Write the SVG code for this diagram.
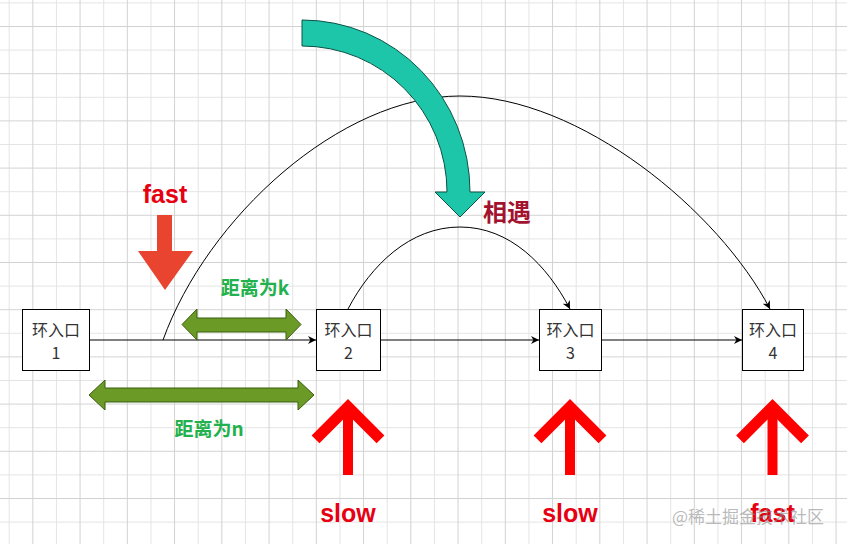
<svg xmlns="http://www.w3.org/2000/svg" width="847" height="544" viewBox="0 0 847 544">
<defs>
<pattern id="grid" patternUnits="userSpaceOnUse" x="8.7" y="2.4" width="47.25" height="47.2">
<path d="M0.5,0 V47.2 M0,0.5 H47.25" stroke="#e4e4e4" stroke-width="1" fill="none"/>
<path d="M24.1,0 V47.2 M0,24.1 H47.25" stroke="#d2d2d2" stroke-width="1" fill="none"/>
</pattern>
<marker id="arr" viewBox="0 0 10 10" refX="10" refY="5" markerWidth="8" markerHeight="8" markerUnits="userSpaceOnUse" orient="auto">
<path d="M0,0 L10,5 L0,10 L3,5 Z" fill="#000"/>
</marker>
<style>
.node rect{fill:#fff;stroke:#000;stroke-width:1}
.node text{font-family:"Noto Sans CJK SC","Liberation Sans",sans-serif;font-size:16px;fill:#333;text-anchor:middle}
.edge{fill:none;stroke:#000;stroke-width:1}
.red{font-family:"Liberation Sans","Noto Sans CJK SC",sans-serif;font-weight:bold;font-size:25px;fill:#e60012;text-anchor:middle}
.grn{font-family:"Noto Sans CJK SC","Liberation Sans",sans-serif;font-weight:bold;font-size:19px;fill:#22b14c;text-anchor:middle}
.dbl{fill:#6b9a27;stroke:#3b5e0f;stroke-width:1}
.up{fill:none;stroke:#ff0000}
</style>
</defs>
<rect width="847" height="544" fill="#fff"/>
<rect width="847" height="544" fill="url(#grid)"/>

<g id="connectors">
<path class="edge" d="M89,340 L316,340" marker-end="url(#arr)"/>
<path class="edge" d="M380,340 L539,340" marker-end="url(#arr)"/>
<path class="edge" d="M601,340 L742,340" marker-end="url(#arr)"/>
<path class="edge" d="M163,340 C207,218 340,96 460,96 C580,96 719,211 770,309" marker-end="url(#arr)"/>
<path class="edge" d="M348,309 C371,265 410,227 460,227 C510,227 547,265 570,309" marker-end="url(#arr)"/>
</g>

<g id="node1" class="node">
<rect x="22.5" y="309.5" width="67" height="61"/>
<text x="56" y="336">环入口</text>
<text x="56" y="359">1</text>
</g>
<g id="node2" class="node">
<rect x="316.5" y="309.5" width="64" height="61"/>
<text x="348.5" y="336">环入口</text>
<text x="348.5" y="359">2</text>
</g>
<g id="node3" class="node">
<rect x="539.5" y="309.5" width="62" height="61"/>
<text x="570.5" y="336">环入口</text>
<text x="570.5" y="359">3</text>
</g>
<g id="node4" class="node">
<rect x="742.5" y="309.5" width="61" height="61"/>
<text x="773" y="336">环入口</text>
<text x="773" y="359">4</text>
</g>

<g id="meet-arrow">
<path d="M302,20 A168,172 0 0 1 470,192 L485,192 L460,217 L435,192 L447,192 A145,146 0 0 0 302,46 Z" fill="#1dc6a9" stroke="#0c5247" stroke-width="1"/>
<text x="483" y="221" style="font-family:'Noto Sans CJK SC',sans-serif;font-weight:bold;font-size:24px;fill:#a3122e">相遇</text>
</g>

<g id="fast-top">
<text class="red" x="165" y="203">fast</text>
<polygon points="157,215 172,215 172,251 193,251 165,290 138,251 157,251" fill="#e8442f"/>
</g>

<g id="dist-k">
<polygon class="dbl" points="182,324.5 197,309 197,318 286,318 286,309 301,324.5 286,340 286,332 197,332 197,340"/>
<text class="grn" x="255" y="295">距离为k</text>
</g>
<g id="dist-n">
<polygon class="dbl" points="89,395 105,380 105,388 298,388 298,380 314,395 298,410 298,402 105,402 105,410"/>
<text class="grn" x="209" y="436">距离为n</text>
</g>

<g id="slow1">
<path class="up" d="M348,406 V475" stroke-width="10"/>
<path class="up" d="M315.5,439.3 L348,406.8 L380.5,439.3" stroke-width="11" stroke-linejoin="miter"/>
<text class="red" x="348" y="522">slow</text>
</g>
<g id="slow2">
<path class="up" d="M570,406 V475" stroke-width="10"/>
<path class="up" d="M537.5,439.3 L570,406.8 L602.5,439.3" stroke-width="11" stroke-linejoin="miter"/>
<text class="red" x="570" y="522">slow</text>
</g>
<g id="fast-bottom">
<path class="up" d="M772.5,406 V475" stroke-width="10"/>
<path class="up" d="M740,439.3 L772.5,406.8 L805,439.3" stroke-width="11" stroke-linejoin="miter"/>
<text class="red" x="772.5" y="522">fast</text>
</g>

<text x="672" y="523" style="font-family:'Noto Sans CJK SC',sans-serif;font-size:17px;fill:#8a8a8a;fill-opacity:0.6">@稀土掘金技术社区</text>
</svg>
